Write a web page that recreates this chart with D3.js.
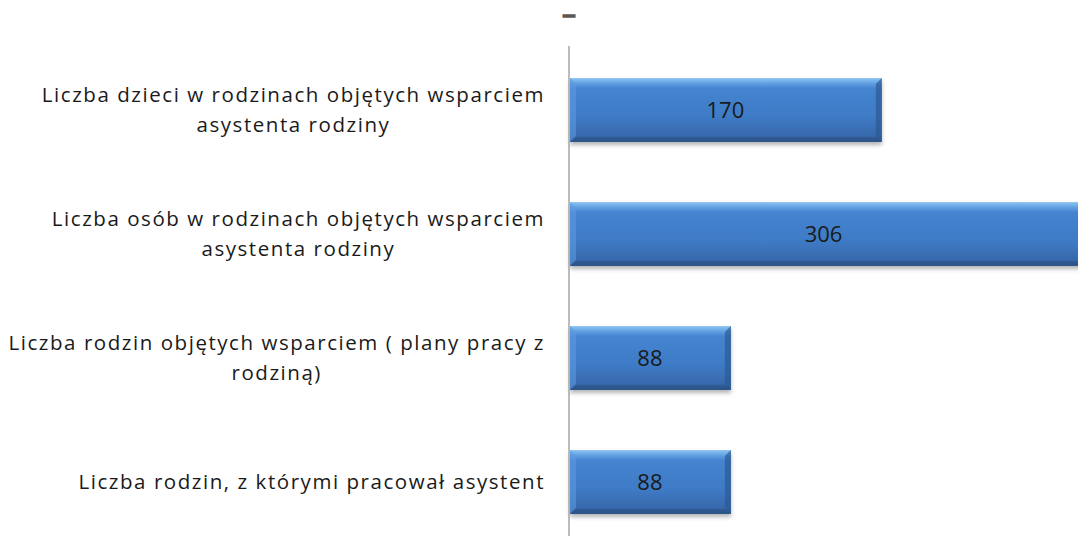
<!DOCTYPE html>
<html>
<head>
<meta charset="utf-8">
<script src="https://d3js.org/d3.v7.min.js"></script>
<style>
  body { margin: 0; background: #fff; }
  text { font-family: "Open Sans", sans-serif; }
</style>
</head>
<body>
<div id="chart"></div>
<script>
// chart data
const categories = [
  ["Liczba dzieci w rodzinach objętych wsparciem", "asystenta rodziny"],
  ["Liczba osób w rodzinach objętych wsparciem", "asystenta rodziny"],
  ["Liczba rodzin objętych wsparciem ( plany pracy z", "rodziną)"],
  ["Liczba rodzin, z którymi pracował asystent"]
];
const values = [170, 306, 88, 88];
const chartTitle = "-";

const W = 1078, H = 539;
const x0 = 569, labelRight = 545;

const svg = d3.select("#chart").append("svg")
  .attr("width", W).attr("height", H);

const defs = svg.append("defs");
const grad = defs.append("linearGradient")
  .attr("id", "barGrad").attr("x1", 0).attr("y1", 0).attr("x2", 0).attr("y2", 1);
grad.append("stop").attr("offset", "0%").attr("stop-color", "#8cc4f2");
grad.append("stop").attr("offset", "9%").attr("stop-color", "#5f9ee0");
grad.append("stop").attr("offset", "16%").attr("stop-color", "#4584d0");
grad.append("stop").attr("offset", "60%").attr("stop-color", "#3e7bc6");
grad.append("stop").attr("offset", "90%").attr("stop-color", "#3869ad");
grad.append("stop").attr("offset", "100%").attr("stop-color", "#2b5282");

const shadow = defs.append("filter").attr("id", "shadow")
  .attr("x", "-5%").attr("y", "-10%").attr("width", "110%").attr("height", "130%");
shadow.append("feDropShadow").attr("dx", 0).attr("dy", 3).attr("stdDeviation", 2)
  .attr("flood-color", "#000").attr("flood-opacity", 0.3);

const x = d3.scaleLinear().domain([0, 100]).range([x0, x0 + 184]);
const y = d3.scaleBand().domain(d3.range(categories.length))
  .range([48, 544]).paddingInner(0.485).paddingOuter(0.2425);

// title (a lone dash)
svg.append("text")
  .attr("x", 569).attr("y", 20)
  .attr("text-anchor", "middle")
  .attr("textLength", 12).attr("lengthAdjust", "spacingAndGlyphs")
  .style("font-size", "16px").style("font-weight", "bold")
  .attr("fill", "#595959").attr("stroke", "#595959").attr("stroke-width", 1.4)
  .text(chartTitle);

// bars
const bars = svg.append("g").selectAll("g").data(values).enter().append("g");
bars.append("rect")
  .attr("x", x(0) + 1)
  .attr("y", (d, i) => y(i))
  .attr("width", d => Math.min(x(d), W + 20) - x(0) - 1)
  .attr("height", y.bandwidth())
  .attr("fill", "url(#barGrad)")
  .attr("filter", "url(#shadow)");

// bevel: lighter left edge, darker right and bottom edges
bars.append("path")
  .attr("d", (d, i) => {
    const l = x(0) + 1, t = y(i), b = t + y.bandwidth(), s = 6;
    return `M${l},${t} L${l + s},${t + s} L${l + s},${b - s} L${l},${b} Z`;
  })
  .attr("fill", "#5b9ae0").attr("opacity", 0.6);
bars.append("path")
  .attr("d", (d, i) => {
    const r = Math.min(x(d), W + 20), t = y(i), b = t + y.bandwidth(), s = 6;
    return `M${r},${t} L${r - s},${t + s} L${r - s},${b - s} L${r},${b} Z`;
  })
  .attr("fill", "#2c5a92").attr("opacity", 0.7);
bars.append("path")
  .attr("d", (d, i) => {
    const l = x(0) + 1, r = Math.min(x(d), W + 20), b = y(i) + y.bandwidth(), s = 5;
    return `M${l},${b} L${l + s},${b - s} L${r - s},${b - s} L${r},${b} Z`;
  })
  .attr("fill", "#2a5285").attr("opacity", 0.5);

// value labels
bars.append("text")
  .attr("x", d => (x(0) + Math.min(x(d), W)) / 2)
  .attr("y", (d, i) => y(i) + y.bandwidth() / 2 + 8)
  .attr("text-anchor", "middle")
  .style("font-size", "22px").attr("fill", "#1a1a1a")
  .text(d => d);

// axis line
svg.append("line")
  .attr("x1", x0).attr("x2", x0).attr("y1", 46).attr("y2", 536)
  .attr("stroke", "#a6a6a6").attr("stroke-width", 1.5);

// category labels, block right-aligned, lines centred in block
const labels = svg.append("g");
categories.forEach((lines, i) => {
  const g = labels.append("g");
  const cy = y(i) + y.bandwidth() / 2;
  const ts = lines.map((ln, j) => g.append("text")
    .attr("y", cy + 7 + (j - (lines.length - 1) / 2) * 30)
    .attr("text-anchor", "middle")
    .style("font-size", "20.5px").style("letter-spacing", "1.55px")
    .attr("fill", "#1a1a1a")
    .text(ln));
  const maxW = d3.max(ts, t => t.node().getComputedTextLength());
  ts.forEach(t => t.attr("x", labelRight - maxW / 2));
});
</script>
</body>
</html>
